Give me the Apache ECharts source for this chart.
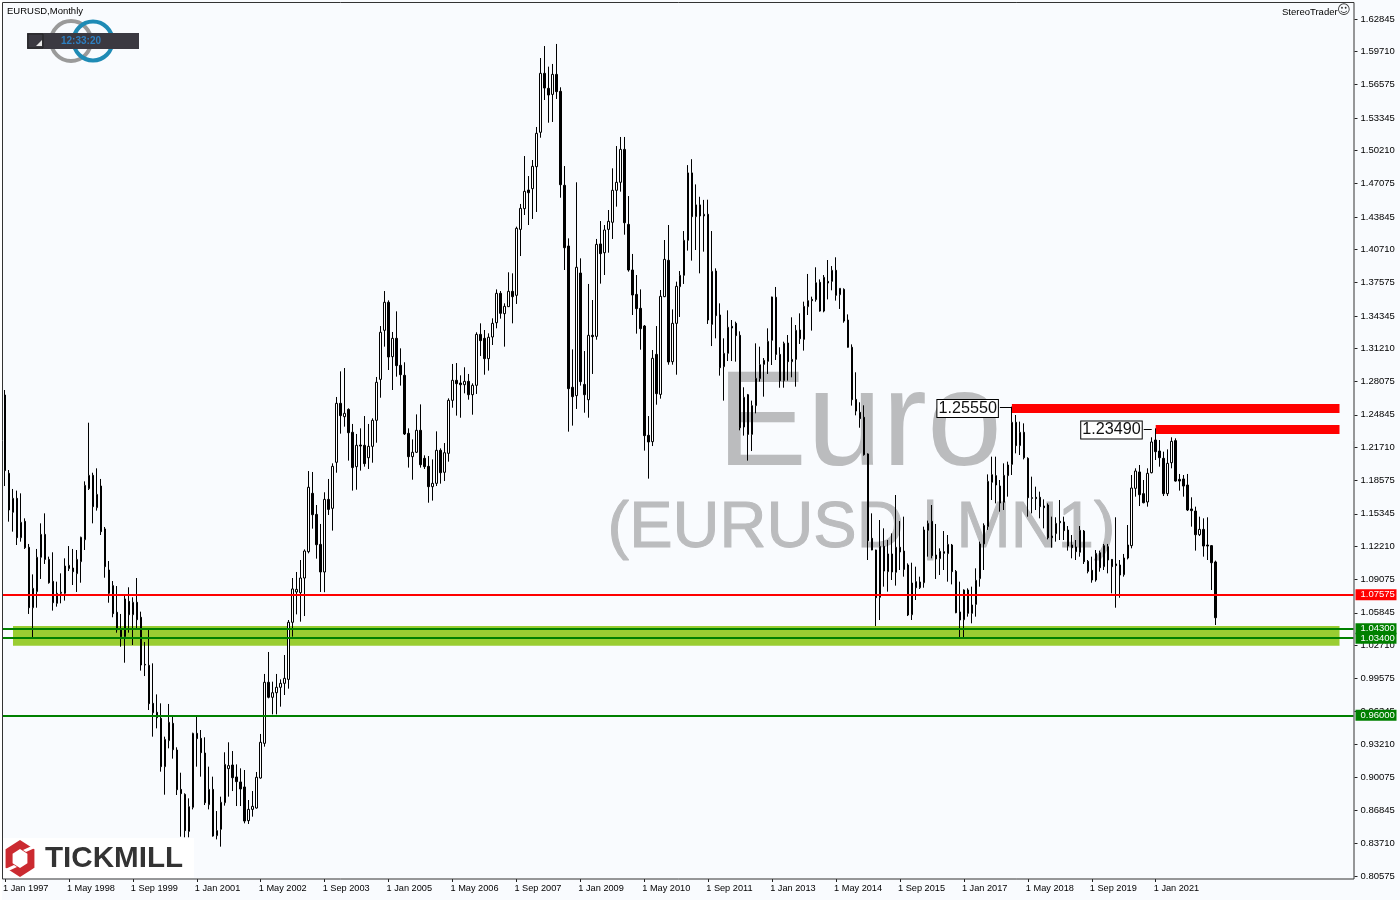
<!DOCTYPE html>
<html>
<head>
<meta charset="utf-8">
<style>html,body{margin:0;padding:0;background:#f9fbfe}#c{width:1400px;height:900px}</style>
<script src="https://cdn.jsdelivr.net/npm/echarts@6/dist/echarts.min.js"></script>
</head>
<body>
<div id="c"></div>
<script>
// each candle: [open, close, low, high], monthly from Jan 1997
const candles1 = [[1.2675,1.1949,1.1801,1.2723],[1.1923,1.1571,1.1459,1.1955],[1.1549,1.1683,1.1363,1.1773],[1.1683,1.1305,1.1235,1.1757],[1.1305,1.1453,1.1267,1.1731],[1.1462,1.1209,1.1197,1.1491],[1.1213,1.0633,1.0573,1.1245],[1.0633,1.0819,1.0349,1.0953],[1.0787,1.1117,1.0633,1.1197],[1.1117,1.1337,1.0909,1.1443],[1.1337,1.1097,1.1053,1.1539],[1.1097,1.0873,1.0864,1.1123],[1.0886,1.0681,1.0605,1.1165],[1.0675,1.0771,1.0643,1.0883],[1.0771,1.0781,1.0675,1.0963],[1.0771,1.1033,1.0701,1.1107],[1.1008,1.1040,1.0985,1.1225],[1.1014,1.0979,1.0851,1.1197],[1.0960,1.1097,1.0784,1.1187],[1.1075,1.1309,1.0873,1.1315],[1.1286,1.1808,1.1187,1.1846],[1.1776,1.1904,1.1763,1.2409],[1.1904,1.1603,1.1443,1.1929],[1.1593,1.1721,1.1565,1.1971],[1.1801,1.1363,1.1331,1.1869],[1.1389,1.1027,1.0921,1.1408],[1.0995,1.0771,1.0681,1.1081],[1.0845,1.0576,1.0541,1.0889],[1.0589,1.0422,1.0393,1.0841],[1.0422,1.0355,1.0259,1.0573],[1.0355,1.0717,1.0105,1.0755],[1.0694,1.0566,1.0393,1.0829],[1.0566,1.0685,1.0275,1.0733],[1.0685,1.0518,1.0435,1.0918]];
const candles2 = [[1.0541,1.0083,1.0029,1.0595],[1.0089,1.0083,.9977,1.0304],[1.0080,.9712,.9651,1.0435],[.9715,.9625,.9395,1.0099],[.9629,.9577,.9475,.9801],[.9571,.9107,.9059,.9715],[.9107,.9369,.8838,.9395],[.9357,.9533,.9283,.9709],[.9523,.9270,.9184,.9603],[.9267,.8886,.8835,.9293],[.8889,.8848,.8435,.9049],[.8841,.8493,.8429,.8851],[.8486,.8723,.8429,.8803],[.8717,.9427,.8697,.9433],[.9427,.9376,.9107,.9597],[.9379,.9241,.9011,.9459],[.9238,.8761,.8739,.9389],[.8742,.8889,.8697,.9107],[.8889,.8441,.8435,.9011],[.8445,.8493,.8409,.8681],[.8506,.8765,.8339,.8819],[.8761,.9129,.8733,.9245],[.9088,.9117,.8819,.9341],[.9123,.9001,.8873,.9257],[.9008,.8963,.8729,.9129],[.8960,.8893,.8729,.9091],[.8912,.8585,.8563,.9075],[.8589,.8697,.8557,.8787],[.8697,.8726,.8627,.8873],[.8710,.9005,.8704,.9056],[.8998,.9341,.8992,.9421],[.9331,.9917,.9299,.9997],[.9917,.9773,.9763,1.0208],[.9773,.9817,.9609,.9923],[.9817,.9869,.9609,.9997],[.9869,.9907,.9683,.9945],[.9907,.9955,.9795,1.0179],[.9945,1.0493,.9856,1.0515],[1.0493,1.0813,1.0355,1.0918],[1.0784,1.0809,1.0569,1.0976],[1.0777,1.0918,1.0499,1.1091],[1.0918,1.1177,1.0553,1.1193]];
const candles3 = [[1.1171,1.1789,1.1155,1.1945],[1.1731,1.1526,1.1392,1.1936],[1.1529,1.1238,1.1104,1.1619],[1.1241,1.0976,1.0784,1.1437],[1.0976,1.1673,1.0782,1.1741],[1.1673,1.1577,1.1523,1.1869],[1.1587,1.1990,1.1373,1.2019],[1.2029,1.2595,1.1929,1.2656],[1.2595,1.2477,1.2304,1.2902],[1.2467,1.2499,1.2371,1.2934],[1.2537,1.2313,1.2045,1.2547],[1.2317,1.1978,1.1757,1.2397],[1.1987,1.2192,1.1766,1.2301],[1.2195,1.2185,1.1949,1.2355],[1.2192,1.2016,1.1987,1.2473],[1.2073,1.2182,1.1965,1.2397],[1.2182,1.2432,1.2025,1.2451],[1.2432,1.2797,1.2217,1.2848],[1.2825,1.3277,1.2649,1.3337],[1.3296,1.3565,1.3139,1.3673],[1.3565,1.3040,1.2915,1.3584],[1.3043,1.3219,1.2723,1.3280],[1.3219,1.2957,1.2851,1.3478],[1.2960,1.2870,1.2765,1.3123],[1.2864,1.2301,1.2291,1.2989],[1.2307,1.2083,1.1978,1.2355],[1.2083,1.2125,1.1862,1.2249],[1.2125,1.2336,1.2118,1.2489],[1.2336,1.2006,1.1978,1.2585],[1.2067,1.1987,1.1965,1.2096],[1.1990,1.1795,1.1641,1.2089],[1.1795,1.1827,1.1661,1.2057],[1.1827,1.2144,1.1801,1.2326],[1.2144,1.1929,1.1824,1.2163],[1.1933,1.2121,1.1849,1.2214],[1.2115,1.2624,1.2035,1.2643],[1.2624,1.2816,1.2553,1.2973],[1.2816,1.2784,1.2477,1.2982],[1.2790,1.2774,1.2457,1.2864],[1.2774,1.2806,1.2691,1.2941],[1.2806,1.2678,1.2630,1.2877],[1.2678,1.2768,1.2486,1.2787],[1.2768,1.3257,1.2685,1.3277],[1.3257,1.3197,1.3049,1.3363],[1.3219,1.3024,1.2870,1.3299],[1.3024,1.3229,1.2909,1.3267]];
const candles4 = [[1.3232,1.3363,1.3155,1.3411],[1.3369,1.3651,1.3315,1.3689],[1.3651,1.3459,1.3408,1.3673],[1.3456,1.3526,1.3139,1.3555],[1.3523,1.3670,1.3520,1.3853],[1.3670,1.3619,1.3363,1.3843],[1.3632,1.4275,1.3549,1.4291],[1.4265,1.4467,1.4009,1.4509],[1.4464,1.4630,1.4403,1.4969],[1.4643,1.4617,1.4307,1.4777],[1.4656,1.4870,1.4365,1.4931],[1.4867,1.5187,1.4432,1.5248],[1.5197,1.5763,1.5145,1.5910],[1.5763,1.5622,1.5507,1.6025],[1.5619,1.5555,1.5289,1.5827],[1.5561,1.5753,1.5296,1.5853],[1.5753,1.5587,1.5517,1.6045],[1.5590,1.4694,1.4569,1.5629],[1.4688,1.4089,1.3875,1.4873],[1.4105,1.2736,1.2323,1.4179],[1.2749,1.2659,1.2381,1.3113],[1.2669,1.3901,1.2541,1.4717],[1.3846,1.2803,1.2765,1.3987],[1.2777,1.2678,1.2505,1.3097],[1.2630,1.3248,1.2457,1.3741],[1.3248,1.3235,1.2877,1.3587],[1.3238,1.4121,1.3206,1.4173],[1.4125,1.4032,1.3744,1.4345],[1.4041,1.4259,1.3827,1.4307],[1.4265,1.4342,1.4041,1.4451],[1.4333,1.4640,1.4173,1.4851],[1.4640,1.4717,1.4483,1.5065],[1.4717,1.5033,1.4627,1.5152],[1.5033,1.4329,1.4214,1.5152],[1.4313,1.3875,1.3859,1.4585],[1.3875,1.3635,1.3443,1.4029],[1.3641,1.3504,1.3264,1.3827],[1.3507,1.3312,1.3110,1.3689],[1.3337,1.2285,1.2141,1.3347],[1.2288,1.2224,1.1872,1.2473]];
const candles5 = [[1.2227,1.3027,1.2185,1.3107],[1.3065,1.2688,1.2582,1.3337],[1.2681,1.3622,1.2640,1.3683],[1.3619,1.3977,1.3615,1.4163],[1.3968,1.2992,1.2966,1.4307],[1.2995,1.3363,1.2966,1.3497],[1.3363,1.3718,1.2870,1.3763],[1.3715,1.3824,1.3424,1.3865],[1.3824,1.4160,1.3741,1.4249],[1.4160,1.4807,1.4061,1.4882],[1.4807,1.4387,1.3965,1.4939],[1.4387,1.4500,1.4067,1.4697],[1.4500,1.4394,1.3843,1.4578],[1.4394,1.4410,1.4051,1.4548],[1.4410,1.3395,1.3357,1.4550],[1.3353,1.3862,1.3145,1.4249],[1.3865,1.3437,1.3219,1.3891],[1.3443,1.2937,1.2861,1.3555],[1.2947,1.3075,1.2621,1.3219],[1.3075,1.3325,1.3001,1.3488],[1.3334,1.3318,1.3001,1.3395],[1.3363,1.3245,1.2995,1.3379],[1.3248,1.2361,1.2336,1.3286],[1.2368,1.2653,1.2285,1.2749],[1.2678,1.2297,1.2045,1.2685],[1.2297,1.2573,1.2137,1.2621],[1.2573,1.2835,1.2499,1.3171],[1.2832,1.2966,1.2803,1.3139],[1.2969,1.3008,1.2659,1.3030],[1.2998,1.3190,1.2877,1.3315],[1.3200,1.3616,1.2963,1.3619],[1.3613,1.3065,1.3011,1.3712],[1.3065,1.2813,1.2745,1.3133],[1.2813,1.3171,1.2745,1.3187],[1.3174,1.2995,1.2813,1.3251],[1.2995,1.3017,1.2845,1.3421],[1.3017,1.3296,1.2755,1.3347],[1.3299,1.3216,1.3165,1.3459],[1.3209,1.3526,1.3101,1.3571],[1.3523,1.3581,1.3443,1.3837],[1.3593,1.3581,1.3293,1.3619],[1.3590,1.3753,1.3571,1.3901],[1.3757,1.3481,1.3475,1.3785],[1.3481,1.3805,1.3469,1.3827],[1.3766,1.3750,1.3593,1.3971],[1.3766,1.3872,1.3680,1.3913],[1.3872,1.3632,1.3581,1.3997],[1.3638,1.3699,1.3501,1.3699],[1.3689,1.3385,1.3369,1.3699],[1.3395,1.3133,1.3130,1.3449],[1.3133,1.2630,1.2573,1.3161],[1.2633,1.2521,1.2480,1.2893],[1.2509,1.2448,1.2361,1.2605],[1.2461,1.2102,1.2093,1.2576]];
const candles6 = [[1.2109,1.1277,1.1091,1.2115],[1.1299,1.1187,1.1185,1.1539],[1.1187,1.0729,1.0457,1.1190],[1.0733,1.1222,1.0515,1.1475],[1.1222,1.0985,1.0835,1.1395],[1.0979,1.1149,1.0787,1.1283],[1.1149,1.0976,1.0899,1.1347],[1.0973,1.1213,1.0845,1.1715],[1.1213,1.1168,1.0995,1.1465],[1.1177,1.1001,1.0931,1.1507],[1.1043,1.0563,1.0553,1.1059],[1.0566,1.0870,1.0515,1.1065],[1.0883,1.0825,1.0707,1.1027],[1.0825,1.0880,1.0813,1.0931],[1.0873,1.1379,1.0825,1.1411],[1.1376,1.1443,1.1123,1.1469],[1.1462,1.1133,1.1107,1.1619],[1.1139,1.1101,1.0909,1.1437],[1.1104,1.1174,1.0947,1.1203],[1.1171,1.1155,1.0995,1.1369],[1.1152,1.1241,1.0883,1.1331],[1.1235,1.0979,1.0857,1.1245],[1.0982,1.0585,1.0580,1.0995],[1.0592,1.0515,1.0349,1.0883],[1.0518,1.0803,1.0349,1.0809],[1.0803,1.0579,1.0547,1.0819],[1.0579,1.0659,1.0483,1.0835],[1.0665,1.0896,1.0547,1.1011],[1.0912,1.1245,1.0835,1.1267],[1.1245,1.1424,1.0995,1.1443],[1.1411,1.1846,1.1380,1.1913],[1.1837,1.1910,1.1667,1.2083],[1.1901,1.1811,1.1635,1.2083],[1.1801,1.1638,1.1555,1.1859],[1.1645,1.1904,1.1571,1.2019],[1.1901,1.2003,1.1699,1.2035],[1.2009,1.2413,1.1907,1.2563],[1.2413,1.2189,1.2115,1.2483],[1.2189,1.2317,1.2099,1.2419],[1.2317,1.2073,1.2057,1.2403],[1.2067,1.1689,1.1507,1.2077],[1.1689,1.1683,1.1539,1.1891],[1.1693,1.1680,1.1571,1.1795],[1.1693,1.1603,1.1491,1.1747]];
const candles7 = [[1.1609,1.1593,1.1395,1.1673],[1.1619,1.1305,1.1289,1.1635],[1.1321,1.1305,1.1209,1.1507],[1.1344,1.1443,1.1267,1.1501],[1.1462,1.1449,1.1283,1.1667],[1.1456,1.1373,1.1283,1.1507],[1.1379,1.1225,1.1181,1.1417],[1.1235,1.1209,1.1107,1.1331],[1.1216,1.1171,1.1091,1.1283],[1.1165,1.1376,1.1123,1.1417],[1.1369,1.1075,1.1053,1.1379],[1.1078,1.0982,1.0963,1.1091],[1.0992,1.0899,1.0873,1.1123],[1.0899,1.1155,1.0883,1.1187],[1.1161,1.1017,1.0979,1.1181],[1.1027,1.1229,1.0995,1.1245],[1.1219,1.1091,1.0963,1.1245],[1.1097,1.1027,1.0771,1.1100],[1.1053,1.1037,1.0633,1.1501],[1.1043,1.0947,1.0729,1.1091],[1.0950,1.1110,1.0931,1.1149],[1.1110,1.1235,1.1097,1.1427],[1.1229,1.1782,1.1203,1.1907],[1.1779,1.1945,1.1699,1.1971],[1.1936,1.1718,1.1609,1.2003],[1.1728,1.1641,1.1635,1.1859],[1.1648,1.1923,1.1603,1.1971],[1.1929,1.2224,1.1923,1.2269],[1.2243,1.2131,1.2051,1.2355],[1.2137,1.2073,1.1987,1.2243],[1.2067,1.1728,1.1705,1.2131],[1.1728,1.2019,1.1705,1.2153],[1.2025,1.2230,1.1971,1.2269],[1.2237,1.1849,1.1843,1.2259],[1.1865,1.1849,1.1757,1.1917],[1.1869,1.1801,1.1699,1.1907],[1.1811,1.1571,1.1561,1.1917],[1.1581,1.1565,1.1411,1.1693],[1.1561,1.1334,1.1181,1.1603],[1.1334,1.1385,1.1321,1.1507],[1.1385,1.1225,1.1123,1.1491],[1.1235,1.1225,1.1091,1.1501],[1.1229,1.1065,1.0803,1.1235],[1.1072,1.0537,1.0467,1.1085]];

const xTickLabels = ['1 Jan 1997','1 May 1998','1 Sep 1999','1 Jan 2001','1 May 2002','1 Sep 2003','1 Jan 2005','1 May 2006','1 Sep 2007','1 Jan 2009','1 May 2010','1 Sep 2011','1 Jan 2013','1 May 2014','1 Sep 2015','1 Jan 2017','1 May 2018','1 Sep 2019','1 Jan 2021'];
const yTicks = [1.62845,1.59710,1.56575,1.53345,1.50210,1.47075,1.43845,1.40710,1.37575,1.34345,1.31210,1.28075,1.24845,1.21710,1.18575,1.15345,1.12210,1.09075,1.05845,1.02710,0.99575,0.96345,0.93210,0.90075,0.86845,0.83710,0.80575];
const redLevel = 1.07575;
const greenLevels = [1.043, 1.034, 0.96];
const greenBand = [1.0457, 1.0268];
const resistanceBands = [{from:252, hi:1.2589, lo:1.2502}, {from:288, hi:1.2387, lo:1.2301}];
const calloutValues = [{value:1.2555, at:252, from:249}, {value:1.2349, at:287, from:285}];

const candles = [].concat(candles1,candles2,candles3,candles4,candles5,candles6,candles7);
const slots = 338, step = 16;
const categories = new Array(slots).fill('');
xTickLabels.forEach((t,k)=>{categories[k*step]=t;});
const hasLabel = (i,v)=>v!=='';

const FONT = '"Liberation Sans", Arial, sans-serif';
const TXT = '#000000';
const levelLabel = (bg)=>({show:true,position:'end',distance:2,formatter:p=>Number(p.value).toFixed(5),color:'#fff',backgroundColor:bg,fontFamily:FONT,fontSize:9.5,padding:[1,4,1,5],width:32,lineHeight:9});

function hexPts(cx,cy,r){const a=[];for(let k=0;k<6;k++){const t=Math.PI/180*(60*k-90);a.push([cx+r*Math.cos(t)*0.9,cy+r*Math.sin(t)]);}return a;}

const chart = echarts.init(document.getElementById('c'),null,{renderer:'canvas'});
chart.setOption({
  animation:false,
  backgroundColor:'#f9fbfe',
  grid:{left:1.5,top:2,width:1352,height:877,containLabel:false},
  xAxis:{type:'category',data:categories,boundaryGap:true,
    axisLine:{show:false},
    axisTick:{show:true,alignWithLabel:true,length:3,interval:hasLabel,lineStyle:{color:'#222',width:1}},
    axisLabel:{show:true,interval:hasLabel,align:'left',margin:5,color:TXT,fontFamily:FONT,fontSize:9.2,hideOverlap:false,formatter:v=>v,padding:[0,0,0,-2]},
    splitLine:{show:false}},
  yAxis:{type:'value',position:'right',offset:1,min:0.80286,max:1.64478,scale:true,
    axisLine:{show:false},
    axisTick:{show:true,length:3,customValues:yTicks,lineStyle:{color:'#222',width:1}},
    axisLabel:{show:true,customValues:yTicks,formatter:v=>v.toFixed(5),margin:6,color:TXT,fontFamily:FONT,fontSize:9.5,hideOverlap:false},
    splitLine:{show:false}},
  series:[{
    type:'candlestick',
    data:candles,
    barWidth:2,
    clip:true,
    itemStyle:{color:'#ffffff',color0:'#000000',borderColor:'#000000',borderColor0:'#000000',borderWidth:1},
    emphasis:{disabled:true},
    markArea:{silent:true,z:1,itemStyle:{opacity:1},label:{show:false},
      data:[
        [{coord:[2,greenBand[0]],itemStyle:{color:'#9acd32'}},{coord:[334,greenBand[1]]}],
        ...resistanceBands.map(b=>[{coord:[b.from,b.hi],itemStyle:{color:'#ff0000'}},{coord:[334,b.lo]}])
      ]},
    markLine:{silent:true,symbol:'none',animation:false,z:5,precision:5,
      data:[
        {yAxis:redLevel,lineStyle:{color:'#ff0000',width:2,type:'solid'},label:levelLabel('#ff0000')},
        ...greenLevels.map(v=>({yAxis:v,lineStyle:{color:'#008000',width:2,type:'solid'},label:levelLabel('#008000')})),
        ...calloutValues.map(c=>[
          {coord:[c.from,c.value],lineStyle:{color:'#000',width:1,type:'solid'},label:{show:false}},
          {coord:[c.at,c.value]}])
      ]},
    markPoint:{silent:true,symbol:'rect',symbolSize:0,z:6,animation:false,
      data:calloutValues.map(c=>({coord:[c.from,c.value],
        label:{show:true,position:'left',distance:2,offset:[0,1],formatter:()=>c.value.toFixed(5),
          color:'#111',fontFamily:FONT,fontSize:16.2,backgroundColor:'#fff',borderColor:'#000',borderWidth:1,padding:[0,1,0,1],lineHeight:17}}))}
  }],
  graphic:[
    {type:'text',z:0,silent:true,left:717,top:360,style:{text:'Euro',fontFamily:FONT,fontSize:135,fill:'#bbbcbe'}},
    {type:'text',z:0,silent:true,left:607,top:496,style:{text:'(EURUSD | MN1)',fontFamily:FONT,fontSize:65,fill:'#bbbcbe',stroke:'#bbbcbe',lineWidth:1}},
    {type:'rect',z:60,silent:true,shape:{x:0,y:0,width:2,height:900},style:{fill:'#fff'}},
    {type:'rect',z:61,silent:true,shape:{x:2.5,y:2.5,width:1351.5,height:876.5},style:{fill:'none',stroke:'#333',lineWidth:1}},
    {type:'text',z:70,silent:true,x:7,y:6,style:{text:'EURUSD,Monthly',fontFamily:FONT,fontSize:9.5,fill:TXT}},
    {type:'circle',z:70,silent:true,shape:{cx:71,cy:41,r:20},style:{fill:'none',stroke:'#9a9a9a',lineWidth:4}},
    {type:'circle',z:71,silent:true,shape:{cx:93,cy:41,r:19.5},style:{fill:'none',stroke:'#1f8bb5',lineWidth:4}},
    {type:'rect',z:72,silent:true,shape:{x:27,y:33,width:112,height:16},style:{fill:'#3b3941'}},
    {type:'rect',z:73,silent:true,shape:{x:28,y:34,width:15,height:14},style:{fill:'#3b3941',stroke:'#222',lineWidth:1}},
    {type:'polygon',z:74,silent:true,shape:{points:[[36,46],[42,46],[42,40]]},style:{fill:'#e8e8e8'}},
    {type:'text',z:74,silent:true,x:61,y:36,style:{text:'12:33:20',fontFamily:FONT,fontSize:10,fontWeight:'bold',fill:'#2e7fc0'}},
    {type:'text',z:70,silent:true,x:1282,y:7,style:{text:'StereoTrader',fontFamily:FONT,fontSize:9.5,fill:TXT}},
    {type:'text',z:70,silent:true,x:1337,y:4,style:{text:'\u263A',fontFamily:'"DejaVu Sans"',fontSize:13,fill:'#333'}},
    {type:'rect',z:80,silent:true,shape:{x:3,y:838,width:191,height:40},style:{fill:'#fff'}},
    {type:'polygon',z:81,silent:true,shape:{points:hexPts(20,858.5,18.5)},style:{fill:'#cb2a30'}},
    {type:'polygon',z:82,silent:true,shape:{points:hexPts(20,858.5,9.5)},style:{fill:'#fff'}},
    {type:'polygon',z:82,silent:true,shape:{points:[[23,850],[26,852],[37,847],[36,844]]},style:{fill:'#fff'}},
    {type:'polygon',z:82,silent:true,shape:{points:[[17,867],[14,865],[3,870],[4,873]]},style:{fill:'#fff'}},
    {type:'text',z:83,silent:true,x:45,y:844,style:{text:'TICKMILL',fontFamily:FONT,fontSize:29.6,fontWeight:'bold',fill:'#333333'}}
  ]
});
</script>
</body>
</html>
